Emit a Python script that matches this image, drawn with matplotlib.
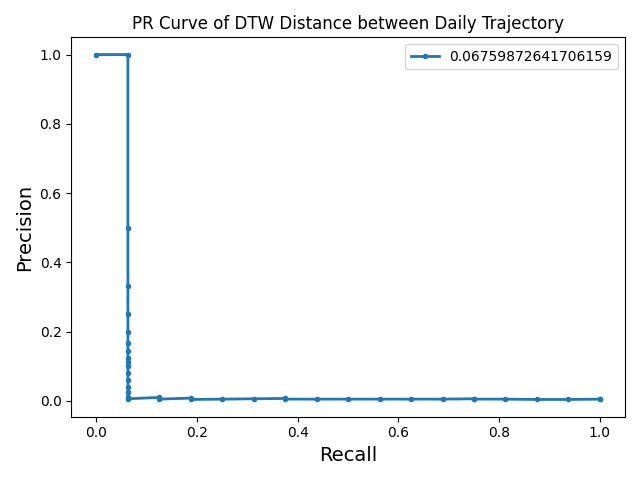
import matplotlib
matplotlib.use("Agg")
import matplotlib.pyplot as plt

# values (recall steps of 1/16)
recall = [0.0, 0.0625, 0.0625, 0.0625, 0.0625, 0.0625, 0.0625, 0.0625,
          0.0625, 0.0625, 0.0625, 0.0625, 0.0625, 0.0625, 0.0625, 0.0625,
          0.0625, 0.125, 0.125, 0.1875, 0.1875, 0.25, 0.3125, 0.375, 0.375,
          0.4375, 0.5, 0.5625, 0.625, 0.6875, 0.75, 0.75, 0.8125, 0.875,
          0.9375, 1.0, 1.0]
precision = [1.0, 1.0, 0.5, 0.333, 0.25, 0.2, 0.167, 0.143, 0.125, 0.111,
             0.1, 0.08, 0.06, 0.04, 0.025, 0.012, 0.006, 0.01, 0.005, 0.008,
             0.004, 0.005, 0.006, 0.007, 0.005, 0.005, 0.005, 0.005, 0.005,
             0.005, 0.006, 0.005, 0.005, 0.004, 0.004, 0.005, 0.004]
ap_label = "0.06759872641706159"

fig, ax = plt.subplots(figsize=(6.4, 4.8), dpi=100)
ax.plot(recall, precision, marker=".", lw=2, label=ap_label)
ax.set_xlabel("Recall", fontsize=14)
ax.set_ylabel("Precision", fontsize=14)
ax.set_title("PR Curve of DTW Distance between Daily Trajectory")
ax.legend()
fig.tight_layout()
fig.savefig("out.png")
